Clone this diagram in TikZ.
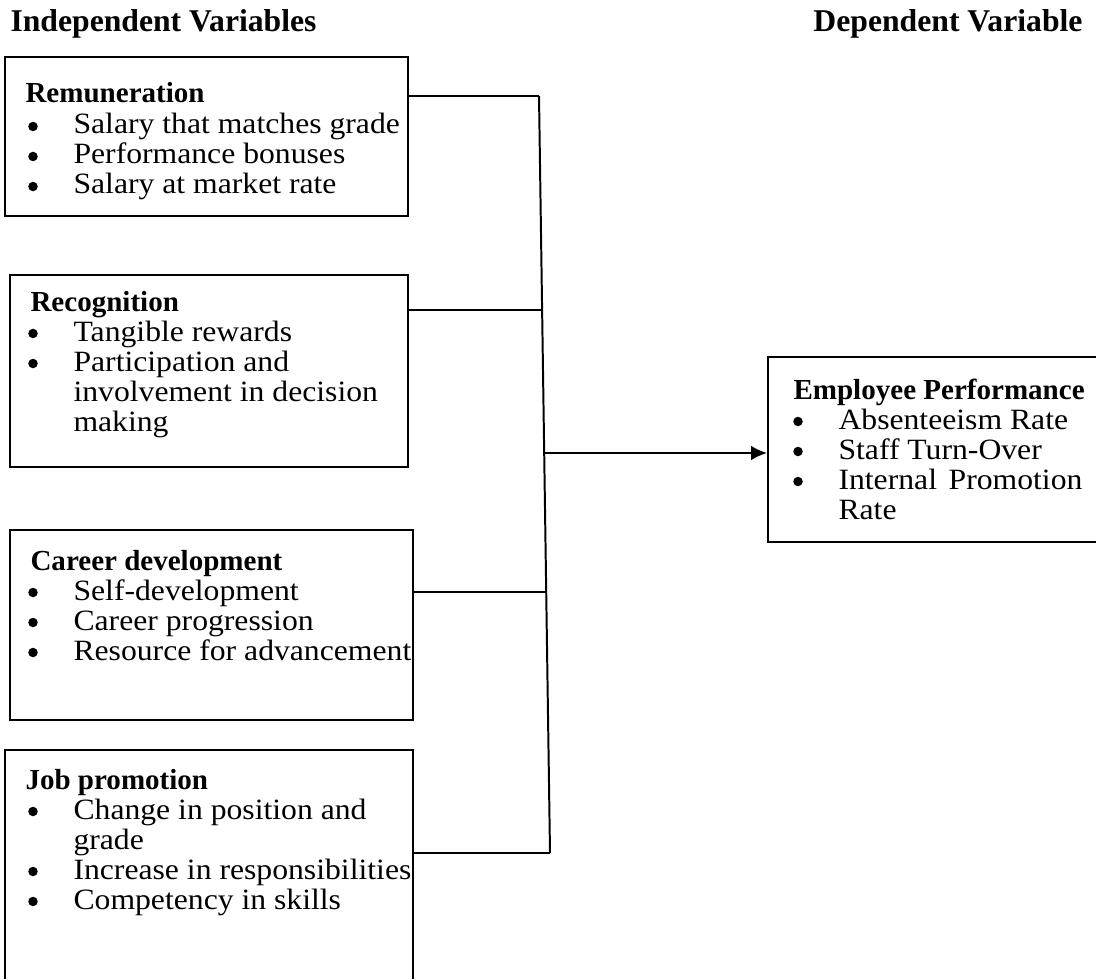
\documentclass[tikz,border=0pt]{standalone}
\usepackage{graphicx}
\usepackage{fontspec}
\setmainfont{Liberation Serif}
\usetikzlibrary{arrows.meta,fit}
\newcommand\sq[1]{\scalebox{1}[0.93]{#1}}
\tikzset{
  box/.style={draw, line width=0.75pt, inner sep=0pt},
  txt/.style={anchor=base west, inner sep=0pt, font=\fontsize{12}{13.8}\selectfont},
  hdr/.style={inner sep=0pt, font=\fontsize{12}{13.8}\selectfont\bfseries},
  ttl/.style={anchor=base west, inner sep=0pt, font=\fontsize{11}{13}\selectfont\bfseries},
  bul/.style={circle, fill=black, draw=none, inner sep=0pt, minimum size=3.6pt},
  link/.style={line width=0.75pt},
  arr/.style={line width=0.75pt, -{Latex[length=6pt,width=5.5pt]}}
}
\newcommand\bitem[4]{%
  \node[bul] (#1b) at (#2-40,#3-7.5) {};
  \node[txt] (#1) at (#2,#3) {\sq{#4}};}
\newcommand\cont[4]{%
  \node[txt] (#1) at (#2,#3) {\sq{#4}};}
\begin{document}
\begin{tikzpicture}[x=0.3788pt, y=-0.3788pt]
\useasboundingbox (0,0) rectangle (1096,978);
\begin{scope}
\clip (0,0) rectangle (1096,978);
% headers
\node[hdr, anchor=base west] (hind) at (10,32) {Independent Variables};
\node[hdr, anchor=base east] (hdep) at (1083,32) {Dependent Variable};

% box 1
\node[box, fit={(5,57) (408,216)}] (b1) {};
\node[ttl] (t1) at (25,103) {Remuneration};
\bitem{i11}{73}{134}{Salary that matches grade}
\bitem{i12}{73}{164}{Performance bonuses}
\bitem{i13}{73}{194}{Salary at market rate}

% box 2
\node[box, fit={(10,275) (408,467)}] (b2) {};
\node[ttl] (t2) at (30,311) {Recognition};
\bitem{i21}{73}{341}{Tangible rewards}
\bitem{i22}{73}{371}{Participation and}
\cont{i22c}{73}{401}{involvement in decision}
\cont{i22d}{73}{431}{making}

% box 3
\node[box, fit={(10,530) (413,720)}] (b3) {};
\node[ttl] (t3) at (30,570) {Career development};
\bitem{i31}{73}{600}{Self-development}
\bitem{i32}{73}{630}{Career progression}
\bitem{i33}{73}{660}{Resource for advancement}

% box 4
\node[box, fit={(5,750) (413,995)}] (b4) {};
\node[ttl] (t4) at (25,789) {Job promotion};
\bitem{i41}{73}{819}{Change in position and}
\cont{i41c}{73}{849}{grade}
\bitem{i42}{73}{879}{Increase in responsibilities}
\bitem{i43}{73}{909}{Competency in skills}

% box 5
\node[box, fit={(768,357) (1110,542)}] (b5) {};
\node[ttl] (t5) at (793,399) {Employee Performance};
\bitem{i51}{838}{429}{Absenteeism Rate}
\bitem{i52}{838}{459}{Staff Turn-Over}
\node[bul] (i53b) at (798,481.5) {};
\node[txt] (i53) at (838,489) {\sq{\makebox[92.4pt][s]{Internal Promotion}}};
\cont{i53c}{838}{519}{Rate}

% junctions on the collecting line
\coordinate (j1) at (539,96);
\coordinate (j2) at (542,310);
\coordinate (j3) at (546,592);
\coordinate (ja) at (544,453);
\coordinate (j4) at (550,853);

\draw[link] (j1) -- (j4);
\draw[link] (b1.east |- j1) -- (j1);
\draw[link] (b2.east |- j2) -- (j2);
\draw[link] (b3.east |- j3) -- (j3);
\draw[link] (b4.east |- j4) -- (j4);
\draw[arr] (ja) -- (b5.west |- ja);
\end{scope}
\end{tikzpicture}
\end{document}
